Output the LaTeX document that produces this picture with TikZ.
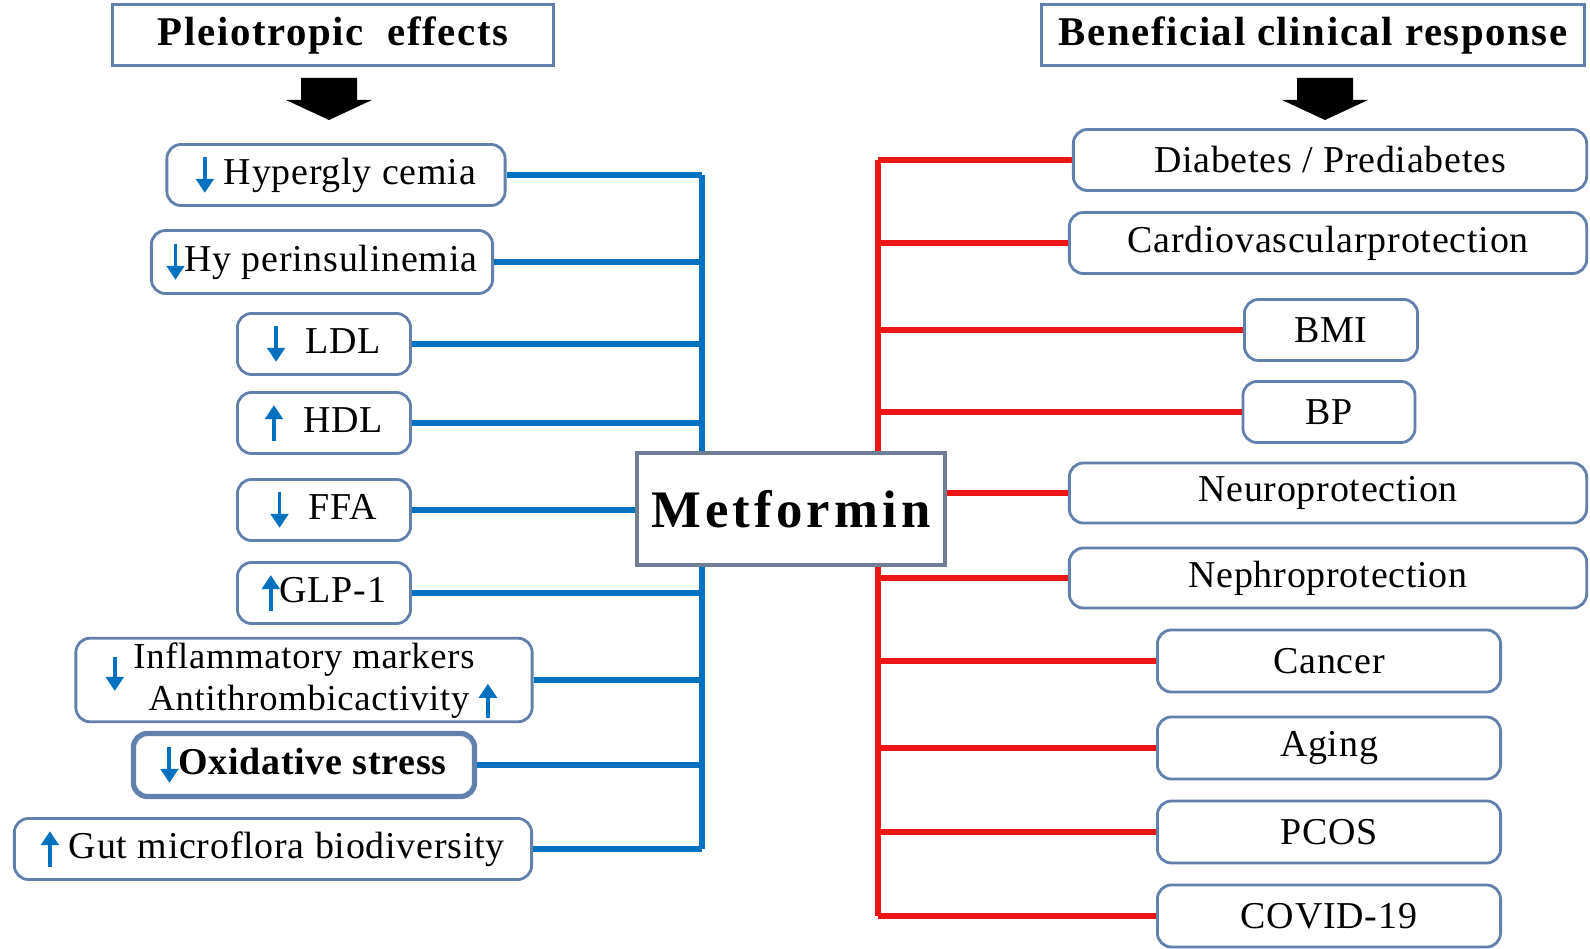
\documentclass[tikz,border=0pt]{standalone}
\usepackage{fontspec}
\setmainfont{Liberation Serif}
\newfontfamily\hdrfont[LetterSpace=4]{Liberation Serif}
\newfontfamily\itemfont[LetterSpace=2]{Liberation Serif}
\newfontfamily\metfont[LetterSpace=8]{Liberation Serif}
\usepackage{tikz}
\usetikzlibrary{positioning, arrows.meta}
\definecolor{myblue}{RGB}{0,112,192}
\definecolor{myred}{RGB}{236,22,22}
\definecolor{boxline}{RGB}{98,128,172}
\definecolor{mygrey}{RGB}{112,126,150}
\newcommand{\dnarr}{\tikz[baseline=0pt]\draw[myblue, line width=1.1pt, -{Triangle[length=4pt,width=5pt]}] (0,0.72em) -- (0,-0.22em);}
\newcommand{\uparr}{\tikz[baseline=0pt]\draw[myblue, line width=1.1pt, -{Triangle[length=4pt,width=5pt]}] (0,-0.22em) -- (0,0.72em);}
\tikzset{
  hdrbox/.style={rectangle, draw=boxline, line width=0.9pt, minimum height=0.6cm,
    font=\hdrfont\fontsize{11.6}{14}\selectfont\bfseries},
  itembox/.style={rectangle, draw=boxline, rounded corners=4pt, line width=0.8pt,
    minimum height=0.61cm, inner sep=2pt, align=center,
    font=\itemfont\fontsize{10.8}{11}\selectfont},
  metbox/.style={rectangle, draw=mygrey, line width=1pt, fill=white,
    minimum width=3.08cm, minimum height=1.12cm,
    font=\metfont\fontsize{15}{18}\selectfont\bfseries},
  blueline/.style={myblue, line width=1.6pt},
  redline/.style={myred, line width=1.8pt},
  blockarrow/.style={fill=black}
}

\begin{document}
\begin{tikzpicture}[x=0.01cm, y=-0.01cm]
  \useasboundingbox (0,0) rectangle (1590,949);

  % Headers
  \node[hdrbox, minimum width=4.40cm] (hdrL) at (333,35) {Pleiotropic\ \ effects};
  \node[hdrbox, minimum width=5.42cm] (hdrR) at (1313,35) {Beneficial clinical response};
  \fill[blockarrow] (301,78) -- (357,78) -- (357,100) -- (372,100) -- (329,120) -- (286,100) -- (301,100) -- cycle;
  \fill[blockarrow] (1297,78) -- (1353,78) -- (1353,100) -- (1368,100) -- (1325,120) -- (1282,100) -- (1297,100) -- cycle;

  % Centre
  \node[metbox] (met) at (791,509) {Metformin};

  % Pleiotropic effects
  \node[itembox, minimum width=3.38cm] (hyper) at (336,175) {\dnarr\ Hypergly cemia};
  \node[itembox, minimum width=3.41cm, minimum height=0.63cm] (hypins) at (322,262) {\dnarr Hy perinsulinemia};
  \node[itembox, minimum width=1.73cm] (ldl) at (324,344) {\dnarr\ \ LDL};
  \node[itembox, minimum width=1.73cm] (hdl) at (324,423) {\uparr\ \ HDL};
  \node[itembox, minimum width=1.73cm] (ffa) at (324,510) {\dnarr\ \ FFA};
  \node[itembox, minimum width=1.73cm] (glp) at (324,593) {\uparr GLP-1};
  \node[itembox, minimum width=4.56cm, minimum height=0.60cm, inner sep=0.5pt,
    font=\itemfont\fontsize{10.4}{10.2}\selectfont] (infl) at (304,680)
    {\raisebox{-0.4em}[0pt][0pt]{\dnarr}\ Inflammatory markers\phantom{\ \uparr}\\\phantom{\dnarr\ }\ Antithrombicactivity \uparr};
  \node[itembox, minimum width=3.41cm, minimum height=0.63cm, line width=1.5pt] (oxid) at (304,765) {\dnarr\textbf{Oxidative stress}};
  \node[itembox, minimum width=5.17cm] (gut) at (273,849) {\uparr\ Gut microflora biodiversity};

  % Beneficial clinical response
  \node[itembox, minimum width=5.13cm] (diab) at (1330,160) {Diabetes / Prediabetes};
  \node[itembox, minimum width=5.17cm] (cardio) at (1328,243) {Cardiovascularprotection};
  \node[itembox, minimum width=1.73cm] (bmi) at (1331,330) {BMI};
  \node[itembox, minimum width=1.72cm] (bp) at (1329,412) {BP};
  \node[itembox, minimum width=5.17cm, minimum height=0.60cm] (neuro) at (1328,493) {Neuroprotection};
  \node[itembox, minimum width=5.17cm, minimum height=0.60cm] (nephro) at (1328,578) {Nephroprotection};
  \node[itembox, minimum width=3.43cm, minimum height=0.62cm] (cancer) at (1329,661) {Cancer};
  \node[itembox, minimum width=3.43cm, minimum height=0.62cm] (aging) at (1329,748) {Aging};
  \node[itembox, minimum width=3.43cm, minimum height=0.62cm] (pcos) at (1329,832) {PCOS};
  \node[itembox, minimum width=3.43cm, minimum height=0.62cm] (covid) at (1329,916) {COVID-19};

  % Blue tree
  \coordinate (lsp) at (702,0);
  \foreach \n in {hyper,hypins,ldl,hdl,glp,infl,oxid,gut}
    \draw[blueline] (\n.east) -- (lsp |- \n.east);
  \draw[blueline] (lsp |- hyper.east) -- (lsp |- met.north);
  \draw[blueline] (lsp |- met.south) -- (lsp |- gut.east);
  \draw[blueline] (ffa.east) -- (ffa.east -| met.west);

  % Red tree
  \coordinate (rsp) at (878,0);
  \foreach \n in {diab,cardio,bmi,bp,nephro,cancer,aging,pcos,covid}
    \draw[redline] (rsp |- \n.west) -- (\n.west);
  \draw[redline] (rsp |- diab.west) -- (rsp |- met.north);
  \draw[redline] (rsp |- met.south) -- (rsp |- covid.west);
  \draw[redline] (met.east |- neuro.west) -- (neuro.west);
\end{tikzpicture}
\end{document}
